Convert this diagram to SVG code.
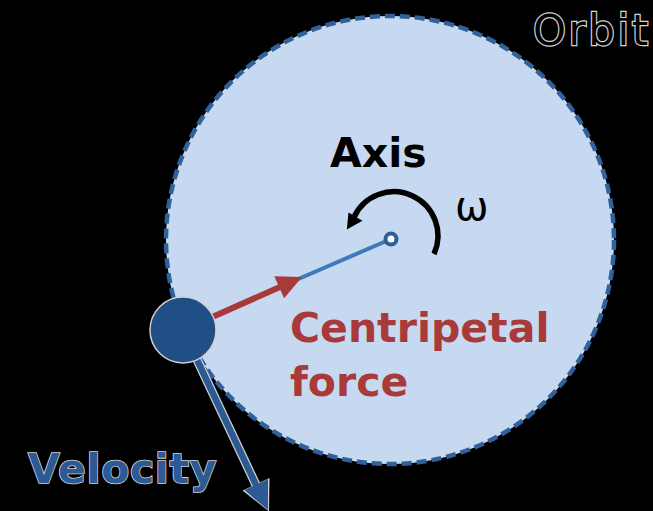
<svg xmlns="http://www.w3.org/2000/svg" width="653" height="511" viewBox="0 0 653 511">
<style>
.lbl{font-family:"DejaVu Sans","Liberation Sans",sans-serif;font-weight:bold;font-size:41px}
.halo{stroke:#d8d8d8;stroke-width:1.6;paint-order:stroke}
</style>
<rect width="653" height="511" fill="#000"/>
<g id="orbit">
<circle cx="390" cy="240" r="224" fill="#c6d9f0" stroke="#30619a" stroke-width="4.5" stroke-dasharray="10 5"/>
<text x="533" y="45" font-family="DejaVu Sans, sans-serif" font-size="42" letter-spacing="2.5" fill="#000" stroke="#d4d4d4" stroke-width="2.4" paint-order="stroke">Orbit</text>
</g>
<g id="connectors">
<line x1="296" y1="280" x2="391" y2="239" stroke="#3d7ab8" stroke-width="4"/>
<path d="M434 254 A43 43 0 0 0 353.8 217.5" fill="none" stroke="#000" stroke-width="5.5"/>
<polygon points="346.8,229.6 362.5,220.7 348.5,212.6" fill="#000"/>
<line x1="183" y1="330" x2="281" y2="286.5" stroke="#a83a3a" stroke-width="6"/>
<polygon points="302,277 274.3,276.2 284.1,298.2" fill="#a83a3a"/>
<line x1="183" y1="330" x2="257" y2="487" stroke="#d0d0d0" stroke-width="9"/>
<polygon points="269,511.5 242.6,490.5 269.5,477.9" fill="#d0d0d0"/>
<line x1="183" y1="330" x2="257" y2="487" stroke="#2b5a95" stroke-width="6.5"/>
<polygon points="268,510 244.4,490.1 268,479.1" fill="#2b5a95"/>
</g>
<g id="axis">
<circle cx="391" cy="239" r="7.5" fill="#2f5f96"/>
<circle cx="391" cy="239" r="3.5" fill="#fff"/>
<text class="lbl" x="330" y="167" fill="#000">Axis</text>
<text x="455" y="220" font-family="DejaVu Sans, sans-serif" font-size="40" fill="#000">ω</text>
</g>
<g id="ball">
<circle cx="183" cy="330" r="33" fill="#1f4f85" stroke="#d0d0d0" stroke-width="1.5"/>
</g>
<g id="centripetal">
<text class="lbl" x="290" y="342" font-size="42" fill="#a83a3a">Centripetal</text>
<text class="lbl" x="290" y="396" font-size="42" fill="#a83a3a">force</text>
</g>
<g id="velocity">
<text class="lbl halo" x="28" y="483" font-size="42" letter-spacing="0.6" fill="#2b5a95">Velocity</text>
</g>
</svg>
